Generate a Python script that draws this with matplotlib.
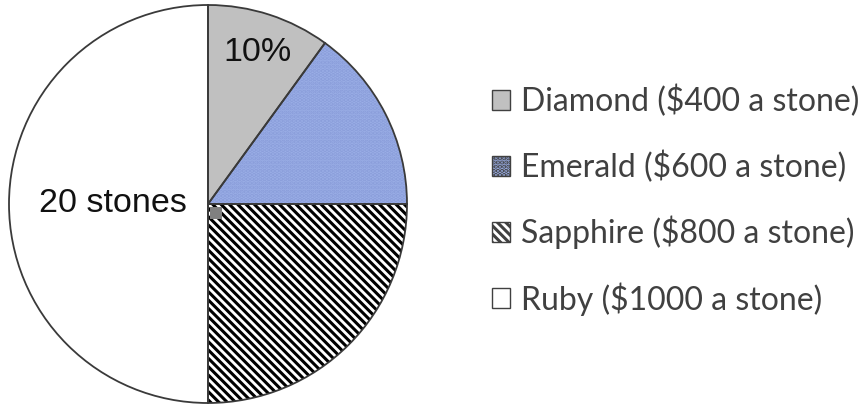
import matplotlib
matplotlib.use("Agg")
from matplotlib import pyplot as plt
from matplotlib.patches import Patch, Rectangle
import numpy as np

# gem shares of the pie (percent)
gems = ["Diamond ($400 a stone)", "Emerald ($600 a stone)",
        "Sapphire ($800 a stone)", "Ruby ($1000 a stone)"]
shares = [10, 15, 25, 50]
fills = ["#c0c0c0", "#9aaee6", "white", "white"]
hatches = [None, "....", "\\\\\\\\", None]
hatch_cols = ["#c0c0c0", "#8a9dda", "black", "white"]
slice_labels = ["10%", "", "", "20 stones"]
label_radius = [0.8, 0, 0, 0.48]

plt.rcParams["hatch.linewidth"] = 2.2

fig = plt.figure(figsize=(8.63, 4.05), dpi=100)
ax = fig.add_axes([9 / 863, 2 / 405, 398 / 863, 398 / 405])

# fill + hatch layer
wedges, _ = ax.pie(shares, colors=fills, startangle=90, counterclock=False,
                   wedgeprops=dict(linewidth=0))
for w, h, hc in zip(wedges, hatches, hatch_cols):
    if h:
        w.set_hatch(h)
        w.set_edgecolor(hc)

# outline layer
outl, _ = ax.pie(shares, startangle=90, counterclock=False,
                 wedgeprops=dict(fill=False, edgecolor="#3a3a3a", linewidth=1.3))

# small marker at the centre
ax.add_patch(Rectangle((0.01, -0.075), 0.062, 0.062, facecolor="#808080",
                       edgecolor="none", zorder=5))

# slice labels
for w, lab, r in zip(wedges, slice_labels, label_radius):
    if not lab:
        continue
    ang = np.deg2rad((w.theta1 + w.theta2) / 2)
    ax.text(r * np.cos(ang), r * np.sin(ang), lab, ha="center", va="center",
            fontsize=24.5, family="Liberation Sans", color="#111111")

ax.set_xlim(-1, 1)
ax.set_ylim(-1, 1)
ax.set_aspect("equal")
ax.axis("off")

handles = []
for f, h, hc in zip(fills, hatches, hatch_cols):
    handles.append(Patch(facecolor=f, edgecolor="#404040", hatch=h, linewidth=1))

leg = fig.legend(handles, gems, loc="center left", bbox_to_anchor=(463 / 863, 0.505),
                 frameon=False, handlelength=0.58, handleheight=0.58,
                 handletextpad=0.35, labelspacing=1.03,
                 prop={"family": "Lato", "size": 23})
for t in leg.get_texts():
    t.set_color("#404040")

fig.savefig("out.png", dpi=100)
